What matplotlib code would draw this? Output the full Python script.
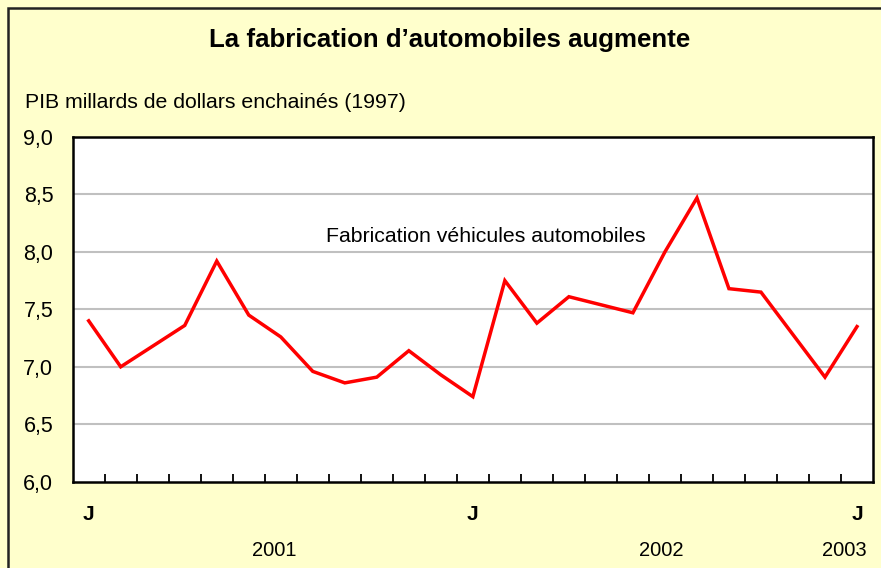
import matplotlib
matplotlib.use("Agg")
import matplotlib.pyplot as plt
import matplotlib.transforms as mtransforms
from matplotlib.patches import Rectangle
from matplotlib.ticker import FixedLocator, NullFormatter

plt.rcParams['font.family'] = ['Liberation Sans', 'DejaVu Sans']

# Data: monthly values, Jan 2001 .. Jan 2003
months = ["J", "F", "M", "A", "M", "J", "J", "A", "S", "O", "N", "D",
          "J", "F", "M", "A", "M", "J", "J", "A", "S", "O", "N", "D", "J"]
values = [7.40, 7.00, 7.18, 7.36, 7.92, 7.45, 7.26, 6.96, 6.86, 6.91, 7.14, 6.93,
          6.74, 7.75, 7.38, 7.61, 7.54, 7.47, 8.00, 8.47, 7.68, 7.65, 7.28, 6.91, 7.35]
label_idx = [0, 12, 24]
years = ["2001", "2002", "2003"]
year_pos = [5.8, 17.9, 23.6]
yticks = [6.0, 6.5, 7.0, 7.5, 8.0, 8.5, 9.0]
title = "La fabrication d\u2019automobiles augmente"
ylab = "PIB millards de dollars enchain\u00e9s (1997)"
series_name = "Fabrication v\u00e9hicules automobiles"

W, H = 881, 568
fig = plt.figure(figsize=(W / 100, H / 100), dpi=100)
bg = "#FFFFCC"
fig.patch.set_facecolor(bg)

# outer border (top/left visible)
fig.patches.append(Rectangle((8 / W, -0.05), 1.2, (H - 8) / H + 0.05,
                             transform=fig.transFigure, fill=False,
                             edgecolor="#222222", linewidth=1.8, clip_on=False))

left, right, top, bottom = 72.7, 873, 137, 481.7
ax = fig.add_axes([left / W, 1 - bottom / H, (right - left) / W, (bottom - top) / H])
ax.set_facecolor("white")

x = list(range(len(values)))
ax.plot(x, values, color="#FF0000", linewidth=2.5, solid_joinstyle="miter", zorder=3)

ax.set_xlim(-0.5, len(values) - 0.5)
ax.set_ylim(6.0, 9.0)
ax.set_yticks(yticks)
ax.set_yticklabels([f"{v:.1f}".replace(".", ",") for v in yticks])
ax.tick_params(axis="y", length=0, pad=14, labelsize=15.5)
for v in yticks[1:-1]:
    ax.axhline(v, color="#C0C0C0", linewidth=1.5, zorder=1)

ax.set_xticks(label_idx)
ax.set_xticklabels([months[i] for i in label_idx], fontweight="bold")
ax.tick_params(axis="x", which="major", length=0, pad=17, labelsize=15)
ax.xaxis.set_minor_locator(FixedLocator([i + 0.5 for i in range(len(values) - 1)]))
ax.xaxis.set_minor_formatter(NullFormatter())
ax.tick_params(axis="x", which="minor", direction="in", length=6, width=1.3, color="black")

for s in ax.spines.values():
    s.set_linewidth(1.8)
    s.set_color("black")

ytrans = mtransforms.blended_transform_factory(ax.transData, fig.transFigure)
for yr, p in zip(years, year_pos):
    ax.text(p, 1 - 550 / H, yr, transform=ytrans, fontsize=14.5, ha="center", va="center")

ax.text(12.4, 8.13, series_name, fontsize=15.3, ha="center", va="center")

fig.text(450 / W, 1 - 40 / H, title, fontsize=18.6, fontweight="bold", ha="center", va="center")
fig.text(25 / W, 1 - 103 / H, ylab, fontsize=15.3, ha="left", va="center")

fig.savefig("out.png", dpi=100, facecolor=bg)
